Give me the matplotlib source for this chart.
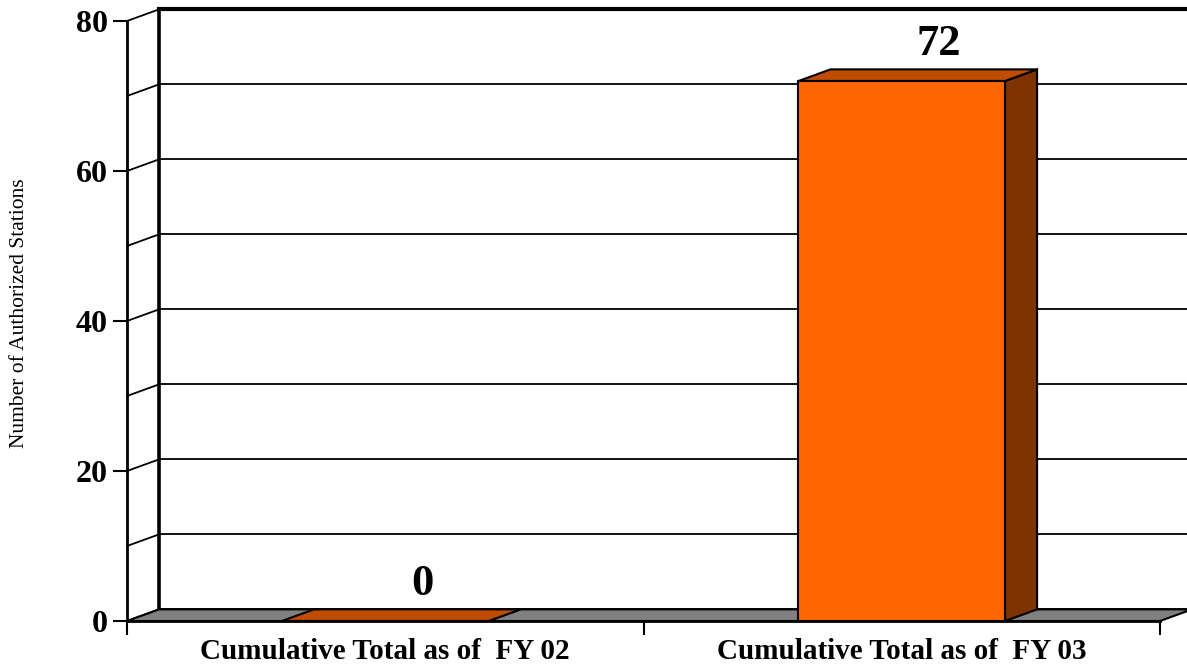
import matplotlib
matplotlib.use('Agg')
import matplotlib.pyplot as plt
from matplotlib.patches import Polygon

plt.rcParams['font.family'] = ['Liberation Serif', 'DejaVu Serif']

# data
categories = ['Cumulative Total as of  FY 02', 'Cumulative Total as of  FY 03']
values = [0, 72]
y_ticks = [0, 20, 40, 60, 80]
grid_levels = [0, 10, 20, 30, 40, 50, 60, 70, 80]

# colours
front_col = '#FF6600'
top_col = '#C04C00'
side_col = '#7F3300'
floor_col = '#808080'

fig = plt.figure(figsize=(11.87, 6.66), dpi=100)
ax = fig.add_axes([127 / 1187, 45 / 666, 1033 / 1187, 600 / 666])
ax.set_xlim(0, 2)
ax.set_ylim(0, 80)

# depth offset of the 3d box, in data units
DX = 0.062
DY = 1.55

# back wall: grid lines and side-wall diagonals
for v in grid_levels:
    lw = 3 if v == 80 else 1.3
    ax.plot([DX, 2 + DX], [v + DY, v + DY], color='black', lw=lw, clip_on=False, zorder=1)
    ax.plot([0, DX], [v, v + DY], color='black', lw=1.3, clip_on=False, zorder=1)
ax.plot([DX, DX], [DY, 80 + DY], color='black', lw=2.6, clip_on=False, zorder=1)

# floor
floor = Polygon([(0, 0), (2, 0), (2 + DX, DY), (DX, DY)], closed=True,
                facecolor=floor_col, edgecolor='black', lw=1.5, clip_on=False, zorder=2)
ax.add_patch(floor)

# bars
xs = [0.5 + i for i in range(len(values))]
w = 0.4
for x, v in zip(xs, values):
    x0, x1 = x - w / 2, x + w / 2
    side = Polygon([(x1, 0), (x1, v), (x1 + DX, v + DY), (x1 + DX, DY)], closed=True,
                   facecolor=side_col, edgecolor='black', lw=1.5, zorder=3, clip_on=False)
    top = Polygon([(x0, v), (x1, v), (x1 + DX, v + DY), (x0 + DX, v + DY)], closed=True,
                  facecolor=top_col, edgecolor='black', lw=1.5, zorder=3, clip_on=False)
    ax.add_patch(side)
    ax.add_patch(top)
    ax.annotate(str(v), xy=(x + DX / 2, v + DY), xytext=(15, 4), textcoords='offset points',
                ha='center', va='bottom', fontsize=32, fontweight='bold', annotation_clip=False)
ax.bar(xs, values, width=w, color=front_col, edgecolor='black', lw=1.5, zorder=4)

# axes
for s in ['top', 'right']:
    ax.spines[s].set_visible(False)
ax.spines['left'].set_linewidth(2)
ax.spines['bottom'].set_linewidth(2)
ax.spines['left'].set_zorder(5)
ax.spines['bottom'].set_zorder(5)
ax.set_yticks(y_ticks)
ax.set_yticklabels([str(t) for t in y_ticks], fontsize=23, fontweight='bold')
ax.tick_params(axis='y', length=10, width=1.5, pad=4)
ax.set_xticks([0, 1, 2])
ax.set_xticklabels([])
ax.tick_params(axis='x', which='major', length=10, width=1.5)
ax.set_xticks(xs, minor=True)
ax.set_xticklabels(categories, minor=True, fontsize=21, fontweight='bold')
ax.tick_params(axis='x', which='minor', length=0, pad=12)

fig.text(20 / 1187, 0.53, 'Number of Authorized Stations', rotation=90,
         ha='center', va='center', fontsize=15.5)

fig.savefig('out.png', dpi=100)
